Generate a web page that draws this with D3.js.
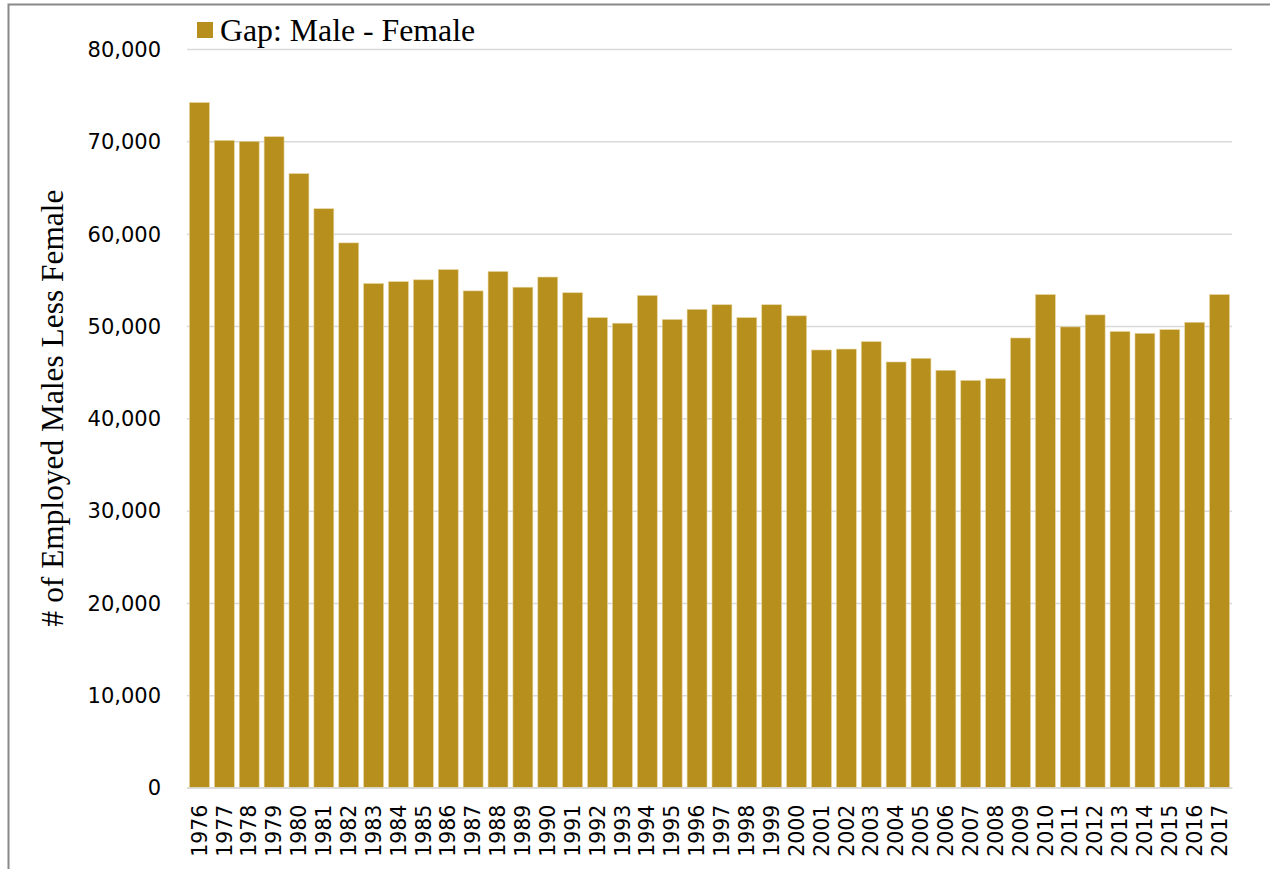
<!DOCTYPE html>
<html>
<head>
<meta charset="utf-8">
<script src="https://cdn.jsdelivr.net/npm/d3@7"></script>
<style>
  html, body { margin: 0; padding: 0; background: #fff; }
  svg { display: block; }
</style>
</head>
<body>
<svg id="chart" width="1270" height="869"></svg>
<script>
const years = ["1976","1977","1978","1979","1980","1981","1982","1983","1984","1985","1986","1987","1988","1989","1990","1991","1992","1993","1994","1995","1996","1997","1998","1999","2000","2001","2002","2003","2004","2005","2006","2007","2008","2009","2010","2011","2012","2013","2014","2015","2016","2017"];
const gapValues = [74200,70100,70000,70500,66500,62700,59000,54600,54800,55000,56100,53800,55900,54200,55300,53600,50900,50300,53300,50700,51800,52300,50900,52300,51100,47400,47500,48300,46100,46500,45200,44100,44300,48700,53400,49900,51200,49400,49200,49600,50400,53400];
const yTicks = [0,10000,20000,30000,40000,50000,60000,70000,80000];
const seriesName = "Gap: Male - Female";
const yTitle = "# of Employed Males Less Female";

const svg = d3.select("#chart");
const barColor = "#B78F1D";
const plot = {left: 187, right: 1232, top: 49, bottom: 787.6};

// outer chart border (partially outside the viewport)
svg.append("rect")
  .attr("x", 8.5).attr("y", 4.5)
  .attr("width", 1400).attr("height", 1000)
  .attr("fill", "none").attr("stroke", "#898989").attr("stroke-width", 2);

const x = d3.scaleBand().domain(years).range([plot.left, plot.right]).paddingInner(0.2).paddingOuter(0.1);
const y = d3.scaleLinear().domain([0, 80000]).range([plot.bottom, plot.top]);

// gridlines
const yAxis = d3.axisLeft(y).tickValues(yTicks).tickSize(-(plot.right - plot.left)).tickFormat(d3.format(","));
const gy = svg.append("g").attr("transform", `translate(${plot.left},0)`).call(yAxis);
gy.select(".domain").remove();
gy.selectAll(".tick line").attr("stroke", "#d9d9d9").attr("stroke-width", 1.5);
gy.selectAll(".tick text")
  .attr("x", -26)
  .attr("dy", "0.35em")
  .attr("fill", "#000")
  .style("font-family", "'DejaVu Sans', sans-serif")
  .style("font-size", "21px");

// bars
svg.append("g").selectAll("rect").data(years).join("rect")
  .attr("x", d => x(d))
  .attr("width", x.bandwidth())
  .attr("y", (d, i) => y(gapValues[i]))
  .attr("height", (d, i) => y(0) - y(gapValues[i]))
  .attr("fill", barColor)
  .attr("stroke", "#e6d49c")
  .attr("stroke-width", 0.6);

// x axis
const xAxis = d3.axisBottom(x).tickSize(0);
const gx = svg.append("g").attr("transform", `translate(0,${plot.bottom})`).call(xAxis);
gx.select(".domain").attr("stroke", "#d9d9d9").attr("stroke-width", 1.5);
gx.selectAll(".tick text")
  .attr("transform", "rotate(-90)")
  .attr("x", -17)
  .attr("y", 0)
  .attr("dy", "0.35em")
  .attr("text-anchor", "end")
  .attr("fill", "#000")
  .style("font-family", "'DejaVu Sans', sans-serif")
  .style("font-size", "20.5px");

// y title
svg.append("text")
  .attr("transform", `translate(63,408) rotate(-90)`)
  .attr("text-anchor", "middle")
  .style("font-family", "'Liberation Serif', 'Times New Roman', serif")
  .style("font-size", "31.4px")
  .attr("fill", "#000")
  .text(yTitle);

// legend
const lg = svg.append("g");
lg.append("rect").attr("x", 197).attr("y", 22).attr("width", 16).attr("height", 16).attr("fill", barColor);
lg.append("text")
  .attr("x", 220).attr("y", 40.5)
  .style("font-family", "'Liberation Serif', 'Times New Roman', serif")
  .style("font-size", "31.8px")
  .attr("fill", "#000")
  .text(seriesName);
</script>
</body>
</html>
